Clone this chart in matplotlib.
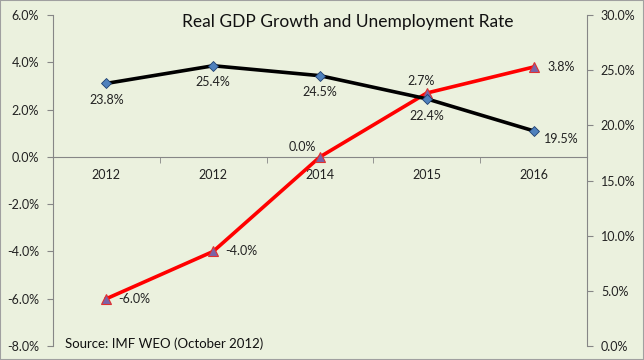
import numpy as np
import matplotlib.pyplot as plt
from matplotlib.ticker import FuncFormatter
from matplotlib.patches import Rectangle

plt.rcParams['font.family'] = ['Lato', 'DejaVu Sans']

years = ['2012', '2012', '2014', '2015', '2016']
gdp_growth = [-6.0, -4.0, 0.0, 2.7, 3.8]
unemployment = [23.8, 25.4, 24.5, 22.4, 19.5]

bg = '#EBF1DE'
grey = '#868686'

fig = plt.figure(figsize=(6.44, 3.6), dpi=100, facecolor=bg)
fig.patches.append(Rectangle((0, 0), 1, 1, transform=fig.transFigure,
                             fill=False, edgecolor='#A0A0A0', linewidth=1.5))
ax = fig.add_axes([53 / 644, 14 / 360, 534 / 644, 331 / 360])
ax.set_facecolor(bg)
ax2 = ax.twinx()

x = np.arange(len(years))

ax2.plot(x, unemployment, color='black', lw=2.6, marker='D', ms=5,
         mfc='#4F81BD', mec='#1F3F6F', mew=0.6, zorder=3)
ax.plot(x, gdp_growth, color='#FF0000', lw=2.6, marker='^', ms=6.5,
        mfc='#7A63A8', mec='#E03030', mew=0.8, zorder=3)

ax.set_xlim(-0.5, len(years) - 0.5)
ax.set_ylim(-8, 6)
ax2.set_ylim(0, 30)
ax.set_yticks(np.arange(-8, 7, 2))
ax2.set_yticks(np.arange(0, 31, 5))
ax.yaxis.set_major_formatter(FuncFormatter(lambda v, p: f'{v:.1f}%'))
ax2.yaxis.set_major_formatter(FuncFormatter(lambda v, p: f'{v:.1f}%'))

# category axis sitting on zero
ax.spines['bottom'].set_position(('data', 0))
ax.set_xticks(x)
ax.set_xticklabels(years)
ax.set_xticks(np.arange(-0.5, len(years), 1), minor=True)
ax.tick_params(axis='x', which='major', length=0, pad=9, labelsize=9, colors='#222222')
ax.tick_params(axis='x', which='minor', length=4, direction='out', color=grey)

for a in (ax, ax2):
    for s in a.spines.values():
        s.set_color(grey)
    a.spines['top'].set_visible(False)
ax2.spines['bottom'].set_visible(False)
ax.spines['right'].set_visible(False)
ax2.spines['left'].set_visible(False)
ax.tick_params(axis='y', length=4, labelsize=9, pad=6, colors=grey, labelcolor='#222222')
ax2.tick_params(axis='y', length=4, labelsize=9, pad=6, colors=grey, labelcolor='#222222')

# data labels
u_off = [(0, -12), (0, -12), (0, -12), (0, -12), (20, -6)]
for i, v in enumerate(unemployment):
    dx, dy = u_off[i]
    ax2.annotate(f'{v:.1f}%', (x[i], v), xytext=(dx, dy), textcoords='offset points',
                 ha='center', va='center', fontsize=9, color='#222222')
g_off = [(20, 0), (20, 0), (-13, 7), (-4, 9), (20, 0)]
for i, v in enumerate(gdp_growth):
    dx, dy = g_off[i]
    ax.annotate(f'{v:.1f}%', (x[i], v), xytext=(dx, dy), textcoords='offset points',
                ha='center', va='center', fontsize=9, color='#222222')

fig.text(0.54, 0.94, 'Real GDP Growth and Unemployment Rate', ha='center', va='center',
         fontsize=12.5, color='#111111')
ax.text(65 / 644, 16 / 360, 'Source: IMF WEO (October 2012)', transform=fig.transFigure,
        ha='left', va='center', fontsize=9.5, color='#111111')

fig.savefig('out.png', dpi=100, facecolor=bg)
